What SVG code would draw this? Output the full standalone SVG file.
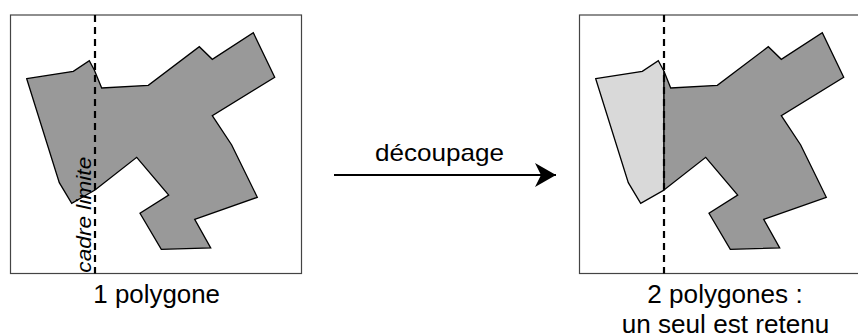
<svg xmlns="http://www.w3.org/2000/svg" width="858" height="336" viewBox="0 0 858 336">
<defs>
<style>
.frame{fill:#fff;stroke:#444;stroke-width:1.2}
.poly{stroke:#000;stroke-width:1.3;stroke-linejoin:miter}
.dark{fill:#999}
.light{fill:#d9d9d9}
.cut{stroke:#000;stroke-width:2.2;stroke-dasharray:7,5;fill:none}
.lbl{font-family:"Liberation Sans",Arial,sans-serif;font-size:25.5px;fill:#000}
</style>
<marker id="ah" viewBox="0 0 22 24" refX="21" refY="12" markerWidth="22" markerHeight="24" markerUnits="userSpaceOnUse" orient="auto">
<path d="M21,12 L0,0 L6,12 L0,24 Z" fill="#000"/>
</marker>
</defs>
<rect width="858" height="336" fill="#fff"/>

<g id="before">
<rect class="frame" x="10.5" y="15" width="291" height="258.5"/>
<polygon class="poly dark" points="26.7,78.7 73.3,71.3 89.3,60.7 94.3,70 101.7,88 148.3,85.3 199.3,46.7 212.3,59.3 253.3,32.7 274.7,77.3 212.3,115.7 231.7,145 257.3,197.3 194.7,219.3 210.7,248 161.3,249.3 140,213.3 168.7,195 136.7,157.3 95,190 71.7,203.3 59.3,182.7"/>
<line class="cut" x1="95" y1="15" x2="95" y2="273.5"/>
<text class="lbl" x="93.3" y="303" textLength="126.7" lengthAdjust="spacingAndGlyphs">1 polygone</text>
<text class="lbl" transform="translate(90.5,272.7) rotate(-90)" style="font-size:20px;font-style:italic" textLength="116" lengthAdjust="spacingAndGlyphs">cadre limite</text>
</g>

<g id="connectors">
<line x1="334" y1="175" x2="556" y2="175" stroke="#000" stroke-width="2" marker-end="url(#ah)"/>
<text class="lbl" x="375" y="161" style="font-size:24px" textLength="129" lengthAdjust="spacingAndGlyphs">découpage</text>
</g>

<g id="after">
<rect class="frame" x="579.5" y="15" width="291" height="258.5"/>
<g transform="translate(569,0)">
<polygon class="poly light" points="26.7,78.7 73.3,71.3 89.3,60.7 95,71.3 95,190 71.7,203.3 59.3,182.7"/>
<polygon class="poly dark" points="95,71.3 101.7,88 148.3,85.3 199.3,46.7 212.3,59.3 253.3,32.7 274.7,77.3 212.3,115.7 231.7,145 257.3,197.3 194.7,219.3 210.7,248 161.3,249.3 140,213.3 168.7,195 136.7,157.3 95,190"/>
<line class="cut" x1="95" y1="15" x2="95" y2="273.5"/>
</g>
<text class="lbl" x="647.3" y="303" textLength="155.4" lengthAdjust="spacingAndGlyphs">2 polygones :</text>
<text class="lbl" x="621.7" y="332.5" textLength="207.6" lengthAdjust="spacingAndGlyphs">un seul est retenu</text>
</g>
</svg>
